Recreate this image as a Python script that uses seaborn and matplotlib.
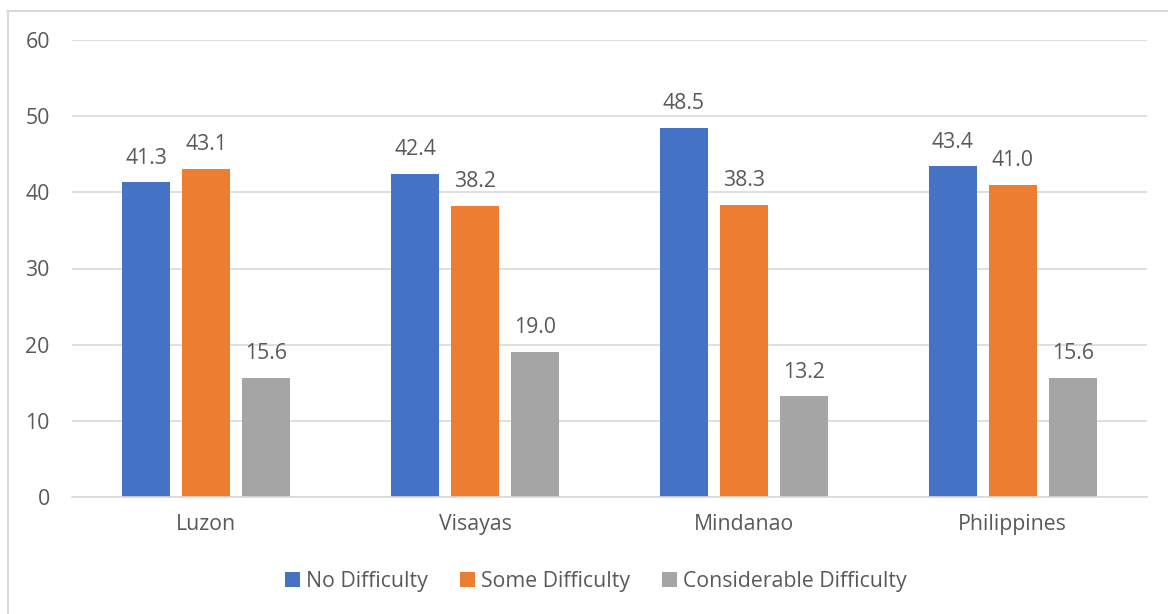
import matplotlib
matplotlib.use("Agg")
import matplotlib.pyplot as plt
import seaborn as sns
import pandas as pd
from matplotlib.lines import Line2D

regions = ["Luzon", "Visayas", "Mindanao", "Philippines"]
series = ["No Difficulty", "Some Difficulty", "Considerable Difficulty"]
no_difficulty = [41.3, 42.4, 48.5, 43.4]
some_difficulty = [43.1, 38.2, 38.3, 41.0]
considerable_difficulty = [15.6, 19.0, 13.2, 15.6]
y_ticks = [0, 10, 20, 30, 40, 50, 60]
colors = ["#4472C4", "#ED7D31", "#A5A5A5"]

rows = []
for name, vals in zip(series, [no_difficulty, some_difficulty, considerable_difficulty]):
    for reg, v in zip(regions, vals):
        rows.append({"Region": reg, "Series": name, "Value": v})
df = pd.DataFrame(rows)

sns.set_theme(style="white")
plt.rcParams["font.family"] = ["Open Sans", "DejaVu Sans"]
text_color = "#595959"
fs = 15.3

fig = plt.figure(figsize=(11.68, 6.14), dpi=100)
ax = fig.add_axes([72 / 1168, 1 - 497 / 614, (1147 - 72) / 1168, (497 - 40) / 614])

sns.barplot(data=df, x="Region", y="Value", hue="Series", order=regions,
            hue_order=series, palette=colors, width=0.67, gap=0.2,
            saturation=1, errorbar=None, linewidth=0, ax=ax, legend=True)

for cont in ax.containers:
    ax.bar_label(cont, fmt="%.1f", padding=10, fontsize=fs, color=text_color)

ax.set_ylim(0, 60)
ax.set_xlim(-0.5, len(regions) - 0.5)
ax.set_yticks(y_ticks)
ax.yaxis.grid(True, color="#D9D9D9", linewidth=1.2)
ax.set_axisbelow(True)
for s in ["top", "right", "left"]:
    ax.spines[s].set_visible(False)
ax.spines["bottom"].set_color("#D9D9D9")
ax.spines["bottom"].set_linewidth(1.2)
ax.tick_params(axis="both", length=0, labelsize=fs, colors=text_color)
ax.tick_params(axis="y", pad=16)
ax.tick_params(axis="x", pad=12)
ax.set_xlabel("")
ax.set_ylabel("")

handles, labels = ax.get_legend_handles_labels()
ax.get_legend().remove()
fig.legend(handles, labels, loc="center", bbox_to_anchor=(596 / 1168, 1 - 581 / 614),
           ncol=3, frameon=False, fontsize=fs, labelcolor=text_color,
           handlelength=0.7, handleheight=0.7, handletextpad=0.3, columnspacing=1.5)

# chart frame: top and left edges
frame_kw = dict(transform=fig.transFigure, color="#D9D9D9", linewidth=1.5)
fig.add_artist(Line2D([7 / 1168, 1.0], [1 - 10.5 / 614] * 2, **frame_kw))
fig.add_artist(Line2D([7.5 / 1168] * 2, [0.0, 1 - 10.5 / 614], **frame_kw))

fig.savefig("out.png", dpi=100)
